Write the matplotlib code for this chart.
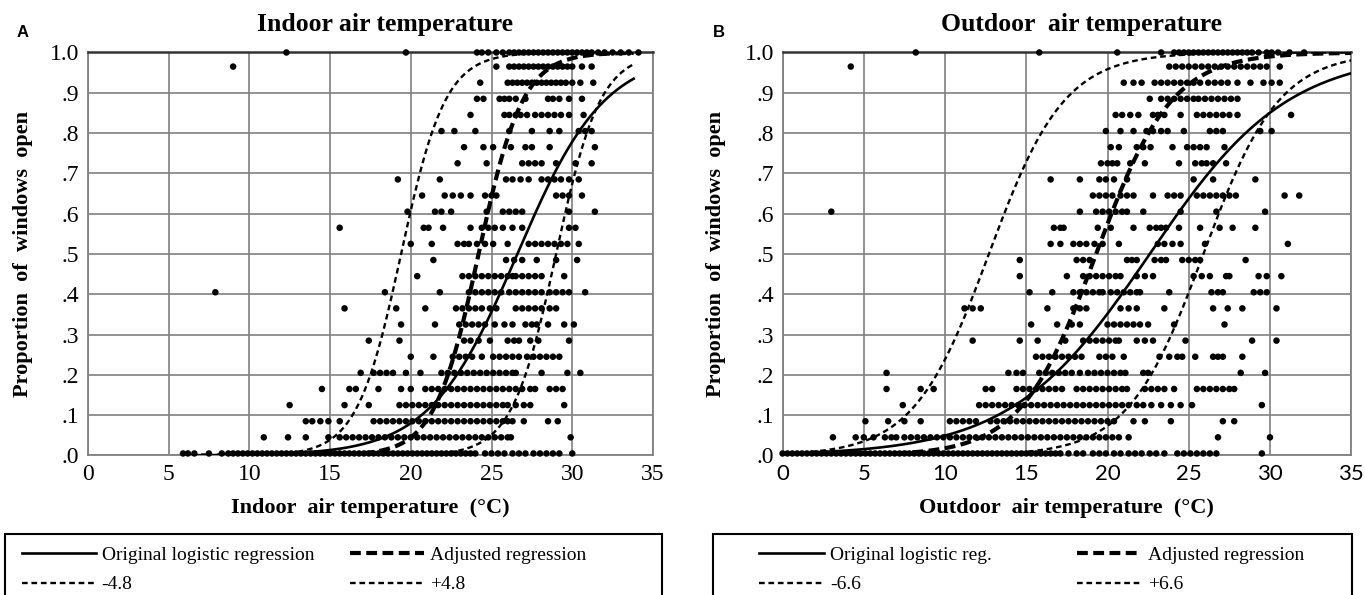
import numpy as np
import matplotlib
matplotlib.use("Agg")
import matplotlib.pyplot as plt
from matplotlib.patches import Rectangle

SERIF = ["Liberation Serif", "DejaVu Serif"]
SANS = ["Liberation Sans", "DejaVu Sans"]

# Datos: proporción de ventanas abiertas -> temperaturas (°C)
indoor_rows = {
    1.0: [12.3, 19.7, 24.1, 24.4, 24.8, 25.3, 25.7, 26.1, 26.4, 26.7, 27.0, 27.3, 27.6, 27.9, 28.2, 28.5,
          28.8, 29.1, 29.4, 29.7, 30.0, 30.3, 30.6, 30.9, 31.2, 31.6, 32.0, 32.5, 33.0, 33.5, 34.1],
    0.965: [9.0, 25.3, 26.1, 26.4, 26.7, 27.0, 27.3, 27.6, 27.9, 28.2, 28.5, 28.8, 29.1, 29.4, 29.7, 30.0,
            30.6, 31.2],
    0.925: [24.3, 26.0, 26.3, 26.6, 26.9, 27.2, 27.5, 27.8, 28.1, 28.4, 28.7, 29.0, 29.3, 29.6, 30.0, 30.5, 31.3],
    0.885: [24.1, 24.5, 25.5, 25.8, 26.1, 26.5, 27.1, 28.5, 28.8, 29.2, 29.8, 30.6],
    0.845: [23.7, 25.8, 26.1, 26.5, 26.8, 27.2, 27.7, 28.1, 28.5, 28.9, 29.3, 29.8, 30.7],
    0.805: [21.9, 22.7, 24.0, 26.1, 27.5, 28.6, 29.2, 30.4, 30.8, 31.2],
    0.765: [23.3, 24.5, 25.1, 26.2, 27.1, 27.5, 28.6, 31.4],
    0.725: [22.9, 24.7, 26.9, 27.3, 27.7, 28.1, 29.0, 30.2, 31.2],
    0.685: [19.2, 21.8, 25.9, 26.3, 26.8, 27.3, 28.1, 28.5, 28.9, 29.3, 29.8, 30.4],
    0.645: [20.7, 22.1, 22.6, 23.1, 23.7, 24.6, 25.0, 25.3, 29.0, 29.4, 29.8, 30.6],
    0.605: [19.8, 21.5, 21.9, 22.5, 24.7, 25.7, 26.1, 26.5, 26.9, 29.8, 31.4],
    0.565: [15.6, 20.8, 21.1, 22.0, 23.7, 24.4, 24.8, 25.2, 25.7, 26.3, 26.9, 29.8, 30.2],
    0.525: [20.0, 21.3, 22.9, 23.3, 23.6, 24.1, 24.6, 25.1, 26.0, 27.3, 27.7, 28.1, 28.5, 28.9, 29.3, 29.7, 30.4],
    0.485: [21.4, 25.9, 26.4, 26.9, 27.8, 29.0, 30.3],
    0.445: [20.4, 23.2, 23.6, 24.0, 24.4, 24.8, 25.2, 25.6, 26.0, 26.3, 26.5, 26.9, 27.3, 27.7, 28.1, 29.5],
    0.405: [7.9, 18.4, 21.8, 23.6, 24.0, 24.4, 24.8, 25.2, 25.6, 26.1, 26.5, 26.9, 27.3, 27.7, 28.1, 28.6,
            29.0, 29.4, 29.8, 30.8],
    0.365: [15.9, 19.1, 20.9, 22.8, 23.2, 23.6, 24.0, 24.4, 24.9, 25.3, 26.5, 26.9, 27.3, 27.7, 28.1, 28.6, 29.0],
    0.325: [19.4, 21.5, 23.0, 23.4, 23.8, 24.2, 24.6, 25.2, 25.8, 26.3, 27.1, 27.5, 27.8, 28.5, 29.5, 30.1],
    0.285: [17.4, 19.3, 23.3, 23.7, 24.2, 24.9, 26.0, 26.4, 26.7, 27.4, 27.9, 29.8],
    0.245: [20.0, 21.4, 22.6, 23.0, 23.4, 23.8, 24.4, 25.1, 25.5, 25.9, 26.3, 26.7, 27.2, 27.6, 28.0, 28.4,
            28.8, 29.2],
    0.205: [16.9, 17.7, 18.1, 18.5, 18.9, 19.7, 20.6, 21.9, 22.3, 22.7, 23.1, 23.5, 23.9, 24.3, 24.7, 25.1,
            25.5, 25.9, 26.3, 26.5, 28.1, 29.7, 30.5],
    0.165: [14.5, 16.2, 16.6, 18.0, 19.4, 20.0, 20.9, 21.3, 21.7, 22.1, 22.5, 22.9, 23.3, 23.7, 24.1, 24.5,
            24.9, 25.3, 25.7, 26.1, 26.5, 26.9, 27.4, 27.7, 28.6, 29.0, 29.4],
    0.125: [12.5, 15.9, 17.4, 19.3, 19.7, 20.1, 20.5, 20.9, 21.3, 21.7, 22.1, 22.5, 22.9, 23.3, 23.7, 24.1,
            24.5, 24.9, 25.3, 25.7, 26.0, 26.5, 27.0, 27.4, 29.5],
    0.085: [13.5, 13.9, 14.4, 14.9, 15.6, 17.7, 18.1, 18.5, 18.9, 19.3, 19.7, 20.1, 20.5, 20.9, 21.3, 21.7,
            22.1, 22.5, 22.9, 23.3, 23.7, 24.1, 24.5, 24.9, 25.3, 25.7, 26.0, 26.3, 27.0, 28.5, 29.1],
    0.045: [10.9, 12.4, 13.5, 14.9, 15.6, 16.0, 16.4, 16.8, 17.2, 17.6, 18.0, 18.4, 18.8, 19.2, 19.6, 20.0,
            20.4, 20.8, 21.2, 21.6, 22.0, 22.4, 22.8, 23.2, 23.6, 24.0, 24.4, 24.8, 25.2, 25.6, 26.0, 26.2, 29.9],
    0.005: [5.9, 6.2, 6.6, 7.5, 8.3, 8.7, 9.0, 9.3, 9.6, 9.9, 10.2, 10.5, 10.8, 11.1, 11.4, 11.7, 12.0, 12.3,
            12.6, 12.9, 13.2, 13.5, 13.8, 14.1, 14.4, 14.7, 15.0, 15.3, 15.6, 15.9, 16.2, 16.5, 16.8, 17.1,
            17.4, 17.7, 18.0, 18.3, 18.6, 18.9, 19.2, 19.5, 19.8, 20.1, 20.4, 20.7, 21.0, 21.3, 21.6, 21.9,
            22.2, 22.5, 22.8, 23.1, 23.4, 23.7, 24.0, 24.6, 25.0, 25.4, 25.8, 26.3, 26.7, 27.1, 27.6, 28.0,
            28.4, 28.8, 29.2, 30.0],
}

outdoor_rows = {
    1.0: [8.2, 15.8, 20.6, 23.3, 24.1, 24.4, 24.7, 25.0, 25.3, 25.6, 25.9, 26.2, 26.5, 26.8, 27.1, 27.4,
          27.7, 28.0, 28.3, 28.6, 28.9, 29.3, 29.8, 30.1, 30.5, 31.2, 32.1],
    0.965: [4.2, 23.8, 24.2, 24.6, 25.0, 25.4, 25.8, 26.2, 26.6, 27.0, 27.4, 27.8, 28.2, 28.6, 29.0, 29.4,
            29.8, 30.6],
    0.925: [21.0, 21.6, 22.1, 22.9, 23.3, 23.7, 24.1, 24.5, 24.9, 25.3, 25.7, 26.2, 26.6, 27.0, 27.4, 28.0,
            28.8, 29.6, 30.1, 30.6],
    0.885: [22.6, 23.3, 23.7, 24.1, 24.5, 24.9, 25.3, 25.6, 26.0, 26.4, 26.8, 27.2, 27.6, 28.0],
    0.845: [20.5, 20.9, 21.4, 21.9, 22.8, 23.1, 23.5, 24.5, 25.5, 25.9, 26.3, 26.7, 27.1, 27.5, 28.0, 31.3],
    0.805: [19.9, 20.8, 21.6, 22.4, 22.8, 23.3, 23.7, 24.7, 26.3, 26.7, 27.1, 29.4, 30.1],
    0.765: [20.2, 20.7, 21.8, 22.2, 22.65, 24.0, 24.9, 25.3, 25.7, 26.1, 27.2],
    0.725: [19.6, 20.0, 20.3, 20.6, 21.4, 22.3, 24.4, 25.4, 25.8, 26.1, 26.5, 27.3],
    0.685: [16.5, 18.3, 19.5, 19.9, 20.4, 21.2, 25.3, 26.5, 29.1],
    0.645: [19.1, 19.5, 19.9, 20.3, 20.8, 21.2, 21.6, 22.8, 23.7, 24.1, 24.5, 25.5, 25.9, 26.3, 26.7, 27.1,
            27.5, 27.9, 30.9, 31.8],
    0.605: [3.0, 18.3, 19.3, 19.7, 20.1, 20.5, 20.9, 21.2, 22.2, 24.5, 26.7, 29.7],
    0.565: [16.7, 17.1, 17.3, 19.4, 20.2, 21.6, 22.6, 23.0, 23.3, 23.6, 24.4, 25.7, 26.9, 27.7, 29.1],
    0.525: [16.5, 17.1, 17.9, 18.3, 18.7, 19.2, 19.7, 20.7, 23.1, 23.5, 24.0, 24.5, 26.0, 31.1],
    0.485: [14.6, 18.1, 18.5, 18.9, 21.2, 21.5, 21.8, 22.9, 23.3, 23.6, 24.6, 25.0, 25.4, 25.7, 28.5],
    0.445: [14.6, 17.5, 18.5, 18.9, 19.3, 19.7, 20.1, 20.5, 20.8, 21.8, 22.3, 22.8, 25.3, 25.8, 26.3, 27.3,
            27.5, 29.3, 29.8, 30.7],
    0.405: [15.2, 16.6, 17.9, 18.3, 18.7, 19.1, 19.5, 19.7, 20.2, 20.6, 21.0, 21.4, 21.8, 22.0, 23.8, 26.4,
            26.8, 27.1, 29.0, 29.4, 29.8],
    0.365: [11.2, 11.7, 12.2, 16.3, 17.9, 18.3, 18.7, 20.8, 21.3, 21.8, 23.5, 26.5, 27.4, 28.3, 30.4],
    0.325: [15.3, 16.9, 17.8, 18.3, 20.0, 20.4, 20.8, 21.2, 21.6, 22.0, 22.5, 24.1, 27.2],
    0.285: [11.7, 14.6, 15.7, 17.4, 18.5, 18.9, 19.3, 19.7, 20.1, 20.5, 20.7, 21.8, 22.3, 22.8, 24.8, 28.9, 30.4],
    0.245: [15.6, 16.0, 16.4, 16.8, 17.2, 17.6, 18.0, 18.4, 19.5, 19.9, 20.3, 21.0, 23.2, 23.8, 24.3, 24.6,
            25.4, 26.5, 26.8, 27.1, 28.3],
    0.205: [6.4, 13.9, 14.4, 14.8, 15.8, 16.2, 16.6, 17.0, 17.4, 17.8, 18.3, 18.8, 19.2, 19.6, 20.0, 20.4,
            20.8, 21.1, 22.2, 22.5, 28.2, 29.7],
    0.165: [6.4, 8.5, 9.3, 12.5, 12.9, 14.4, 14.8, 15.2, 15.6, 16.0, 16.4, 16.8, 17.2, 18.1, 18.5, 18.9,
            19.3, 19.7, 20.1, 20.5, 20.9, 21.2, 22.3, 22.7, 23.1, 23.5, 24.1, 25.5, 25.9, 26.3, 26.7, 27.1,
            27.5, 27.8],
    0.125: [7.4, 12.1, 12.5, 12.9, 13.3, 13.7, 14.1, 14.5, 14.9, 15.3, 15.7, 16.1, 16.5, 16.9, 17.3, 17.7,
            18.1, 18.5, 18.9, 19.3, 19.7, 20.1, 20.5, 20.9, 21.3, 21.8, 22.2, 22.7, 23.3, 23.9, 24.5, 25.2, 29.5],
    0.085: [5.1, 6.5, 7.5, 8.5, 10.3, 10.7, 11.1, 11.5, 11.9, 12.8, 13.2, 13.6, 14.0, 14.4, 14.8, 15.2,
            15.6, 16.0, 16.4, 16.8, 17.2, 17.6, 18.0, 18.4, 18.8, 19.2, 19.6, 20.0, 20.4, 21.6, 22.3, 23.9,
            27.1, 27.8],
    0.045: [3.1, 4.5, 5.0, 5.6, 6.3, 6.7, 7.0, 7.5, 7.9, 8.3, 8.7, 9.1, 9.5, 9.9, 10.3, 10.7, 11.1, 11.5,
            11.9, 12.3, 12.7, 13.1, 13.5, 13.9, 14.3, 14.7, 15.1, 15.5, 15.9, 16.3, 16.7, 17.1, 17.5, 17.9,
            18.3, 18.7, 19.1, 19.5, 19.9, 20.3, 20.7, 21.3, 26.8, 30.0],
    0.005: [0.0, 0.3, 0.6, 0.9, 1.2, 1.5, 1.8, 2.1, 2.4, 2.7, 3.0, 3.3, 3.6, 3.9, 4.2, 4.5, 4.8, 5.1, 5.4,
            5.7, 6.0, 6.3, 6.6, 6.9, 7.2, 7.5, 7.8, 8.1, 8.4, 8.7, 9.0, 9.3, 9.6, 9.9, 10.2, 10.5, 10.8, 11.1,
            11.4, 11.7, 12.0, 12.3, 12.6, 12.9, 13.2, 13.5, 13.8, 14.1, 14.4, 14.7, 15.0, 15.3, 15.6, 15.9,
            16.2, 16.5, 16.8, 17.1, 17.6, 18.1, 18.5, 19.1, 19.5, 19.9, 20.4, 20.8, 21.3, 21.7, 22.1, 22.6,
            23.0, 23.5, 24.3, 24.7, 25.1, 25.5, 25.9, 26.3, 26.7, 29.5],
}

# Regresiones logísticas (pendiente, temperatura al 50 %) y desplazamientos
indoor_orig = (0.37, 26.6)
indoor_adj = (0.73, 24.2)
indoor_shift = 4.8
indoor_trange = (6.0, 33.8)

outdoor_orig = (0.235, 22.6)
outdoor_adj = (0.43, 19.3)
outdoor_shift = 6.6
outdoor_trange = (0.0, 35.0)

ytick_vals = [0.0, 0.1, 0.2, 0.3, 0.4, 0.5, 0.6, 0.7, 0.8, 0.9, 1.0]
ytick_labels = [".0", ".1", ".2", ".3", ".4", ".5", ".6", ".7", ".8", ".9", "1.0"]
xtick_vals = [0, 5, 10, 15, 20, 25, 30, 35]


def logistic(t, slope, mid):
    return 1.0 / (1.0 + np.exp(-slope * (t - mid)))


def panel(ax, rows, orig, adj, shift, trange, title, xlabel, xtick_family, xtick_size, ylab_x):
    xs = [t for p in rows for t in rows[p]]
    ys = [p for p in rows for t in rows[p]]
    ax.scatter(xs, ys, s=22, color="black", edgecolors="none", zorder=3, clip_on=False)

    t = np.linspace(trange[0], trange[1], 300)
    h_orig, = ax.plot(t, logistic(t, *orig), color="black", lw=1.9, zorder=4)
    h_adj, = ax.plot(t, logistic(t, *adj), color="black", lw=3.0, dashes=(2.6, 1.3), zorder=4)
    h_lo, = ax.plot(t, logistic(t, adj[0], adj[1] - shift), color="black", lw=1.7, dashes=(2.4, 1.6), zorder=4)
    h_hi, = ax.plot(t, logistic(t, adj[0], adj[1] + shift), color="black", lw=1.7, dashes=(2.4, 1.6), zorder=4)

    ax.set_xlim(0, 35)
    ax.set_ylim(0, 1)
    ax.set_xticks(xtick_vals)
    ax.set_yticks(ytick_vals)
    ax.set_yticklabels(ytick_labels, family=SERIF, fontsize=17)
    ax.set_xticklabels([str(v) for v in xtick_vals], family=xtick_family, fontsize=xtick_size)
    ax.tick_params(length=0, pad=6)
    ax.grid(True, color="#808080", lw=1.2)
    ax.set_axisbelow(True)
    for s in ax.spines.values():
        s.set_color("#808080")
        s.set_linewidth(1.3)
    ax.spines["top"].set_color("#333333")
    ax.spines["top"].set_linewidth(1.8)

    ax.text(0.525, 1.053, title, transform=ax.transAxes, ha="center", va="baseline",
            family=SERIF, fontsize=18.5, fontweight="bold")
    ax.set_xlabel(xlabel, family=SERIF, fontsize=16, fontweight="bold")
    ax.xaxis.label.set_va("center")
    ax.xaxis.set_label_coords(0.5, -0.13)
    ax.set_ylabel("Proportion  of  windows  open", family=SERIF, fontsize=16, fontweight="bold")
    ax.yaxis.set_label_coords(ylab_x, 0.5)
    return h_orig, h_adj, h_lo, h_hi


fig = plt.figure(figsize=(13.65, 5.95), dpi=100)
ax1 = fig.add_axes([0.0643, 0.2345, 0.4141, 0.6773])
ax2 = fig.add_axes([0.5733, 0.2345, 0.4166, 0.6773])

hA = panel(ax1, indoor_rows, indoor_orig, indoor_adj, indoor_shift, indoor_trange,
           "Indoor air temperature", "Indoor  air temperature  (°C)", SERIF, 17, -0.097)
hB = panel(ax2, outdoor_rows, outdoor_orig, outdoor_adj, outdoor_shift, outdoor_trange,
           "Outdoor  air temperature", "Outdoor  air temperature  (°C)", ["Lato", "DejaVu Sans"], 16, -0.099)

fig.text(17 / 1365, 1 - 37 / 595, "A", family=SANS, fontsize=12, fontweight="bold", va="baseline")
fig.text(713 / 1365, 1 - 37 / 595, "B", family=SANS, fontsize=12, fontweight="bold", va="baseline")

# recuadros de leyenda (cortados por el borde inferior)
fig.add_artist(Rectangle((5 / 1365, -0.1), (662 - 5) / 1365, 0.1 + 1 - 534 / 595,
                         transform=fig.transFigure, fill=False, ec="black", lw=1.5))
fig.add_artist(Rectangle((713 / 1365, -0.1), (1352 - 713) / 1365, 0.1 + 1 - 534 / 595,
                         transform=fig.transFigure, fill=False, ec="black", lw=1.5))

fig.legend([hA[0], hA[2], hA[1], hA[3]],
           ["Original logistic regression", "-4.8", "Adjusted regression", "+4.8"],
           ncol=2, loc="upper left", bbox_to_anchor=(22 / 1365, 1 - 546 / 595), frameon=False,
           prop={"family": SERIF, "size": 14}, handlelength=3.8, handletextpad=0.3,
           columnspacing=1.85, labelspacing=0.63, borderpad=0, borderaxespad=0)
fig.legend([hB[0], hB[2], hB[1], hB[3]],
           ["Original logistic reg.", "-6.6", "Adjusted regression", "+6.6"],
           ncol=2, loc="upper left", bbox_to_anchor=(759 / 1365, 1 - 546 / 595), frameon=False,
           prop={"family": SERIF, "size": 14}, handlelength=3.35, handletextpad=0.3,
           columnspacing=4.4, labelspacing=0.63, borderpad=0, borderaxespad=0)

fig.savefig("out.png", dpi=100)
